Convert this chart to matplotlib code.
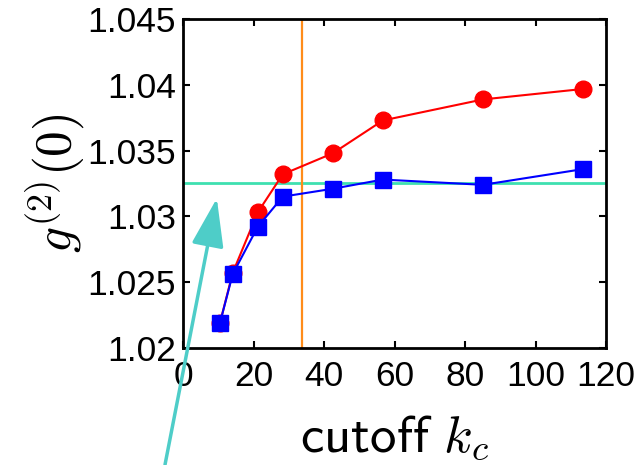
import numpy as np
import matplotlib
matplotlib.use("Agg")
import matplotlib.pyplot as plt

# cutoff values and g2(0) for both series
kc = [10.5, 14.1, 21.2, 28.3, 42.5, 56.7, 85.1, 113.6]
g2_red = [1.0219, 1.0257, 1.0303, 1.0332, 1.0348, 1.0373, 1.0389, 1.0397]
g2_blue = [1.0219, 1.0256, 1.0292, 1.0315, 1.0321, 1.0328, 1.0324, 1.0336]
g2_ref = 1.03254
kc_mark = 33.8
xticks = [0, 20, 40, 60, 80, 100, 120]
yticks = [1.02, 1.025, 1.03, 1.035, 1.04, 1.045]
yticklabels = ["1.02", "1.025", "1.03", "1.035", "1.04", "1.045"]

plt.rcParams["font.family"] = ["Liberation Sans", "DejaVu Sans"]
plt.rcParams["mathtext.fontset"] = "cm"

fig = plt.figure(figsize=(6.39, 4.65), dpi=100)
ax = fig.add_axes([183 / 639, 1 - 347.7 / 465, (606 - 183) / 639, (347.7 - 19.3) / 465])

ax.axhline(g2_ref, color="#3ee0b0", lw=2, zorder=1)
ax.axvline(kc_mark, color="#ff8c1a", lw=1.6, zorder=1)
ax.plot(kc, g2_red, "-o", color="#ff0000", lw=1.5, ms=12, zorder=3)
ax.plot(kc, g2_blue, "-s", color="#0000ff", lw=1.5, ms=11.5, zorder=4)

ax.set_xlim(0, 120)
ax.set_ylim(1.02, 1.045)
ax.set_xticks(xticks)
ax.set_yticks(yticks)
ax.set_yticklabels(yticklabels)
ax.tick_params(direction="in", length=5, width=1.5, top=True, right=True,
               labelsize=25.5)
ax.tick_params(axis="x", pad=9)
ax.tick_params(axis="y", pad=5)
for s in ax.spines.values():
    s.set_linewidth(2)

ax.set_ylabel(r"$g^{(2)}(0)$", fontsize=37, labelpad=0)
ax.set_xlabel(r"$\mathsf{cutoff}\ k_c$", fontsize=38, labelpad=14)

ax.annotate("", xy=(9.6, 1.03137), xytext=(-5.1, 1.0111),
            xycoords="data", textcoords="data", annotation_clip=False,
            arrowprops=dict(arrowstyle="-|>,head_length=1.5,head_width=0.5",
                            mutation_scale=20, color="#4ecdc8", lw=2.5,
                            shrinkA=0, shrinkB=0),
            zorder=5)

fig.savefig("out.png", dpi=100)
